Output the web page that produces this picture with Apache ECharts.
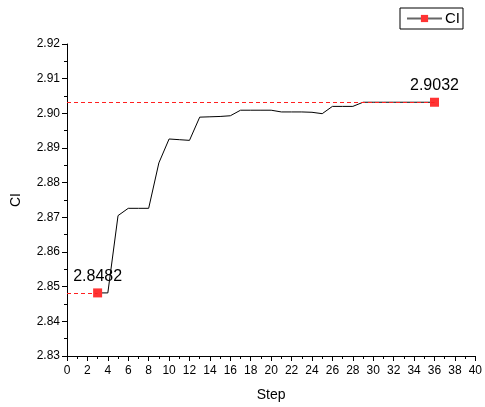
<!DOCTYPE html>
<html>
<head>
<meta charset="utf-8">
<script src="https://cdn.jsdelivr.net/npm/echarts@6/dist/echarts.min.js"></script>
<style>html,body{margin:0;padding:0;background:#fff}#c{width:485px;height:407px}</style>
</head>
<body>
<div id="c"></div>
<script>
var steps = [3,4,5,6,7,8,9,10,11,12,13,14,15,16,17,18,19,20,21,22,23,24,25,26,27,28,29,30,31,32,33,34,35,36];
var ciValues = [2.8482,2.8482,2.8705,2.8726,2.8726,2.8726,2.8857,2.8926,2.8924,2.8922,2.8989,2.8990,2.8991,2.8993,2.9009,2.9009,2.9009,2.9009,2.9004,2.9004,2.9004,2.9003,2.8999,2.9020,2.9020,2.9020,2.9032,2.9032,2.9032,2.9032,2.9032,2.9032,2.9032,2.9032];
var xTicks = [0,2,4,6,8,10,12,14,16,18,20,22,24,26,28,30,32,34,36,38,40];
var yTicks = [2.83,2.84,2.85,2.86,2.87,2.88,2.89,2.90,2.91,2.92];
var markedIdx = [0, steps.length - 1];

var FONT = '"Liberation Sans", Arial, sans-serif';
var valueLabel = { show: true, position: 'top', distance: 4, fontFamily: FONT, fontSize: 16, color: '#000' };
var data = steps.map(function (s, i) {
  var marked = markedIdx.indexOf(i) >= 0;
  return marked ? {
    value: [s, ciValues[i]],
    symbol: 'rect',
    label: Object.assign({ formatter: ciValues[i].toFixed(4) }, valueLabel)
  } : { value: [s, ciValues[i]], symbol: 'none' };
});
var guideLines = markedIdx.map(function (i) {
  return [{ coord: [xTicks[0], ciValues[i]] }, { coord: [steps[i], ciValues[i]] }];
});

var chart = echarts.init(document.getElementById('c'));
chart.setOption({
  animation: false,
  textStyle: { fontFamily: FONT, color: '#000' },
  grid: { left: 67, right: 6, top: 44, bottom: 50 },
  legend: {
    right: 22, top: 8,
    borderColor: '#000', borderWidth: 1, borderRadius: 0,
    padding: [3, 3, 3, 6],
    itemWidth: 35, itemHeight: 9, itemGap: 4,
    lineStyle: { color: '#666' },
    textStyle: { fontFamily: FONT, fontSize: 15, color: '#000', padding: [0, 0, 0, -2] },
    data: ['CI']
  },
  xAxis: {
    type: 'value', min: xTicks[0], max: xTicks[xTicks.length - 1], interval: 2,
    name: 'Step', nameLocation: 'middle', nameGap: 32,
    nameTextStyle: { fontFamily: FONT, fontSize: 14, color: '#000' },
    axisLine: { show: true, lineStyle: { color: '#000', width: 1 } },
    axisTick: { show: true, length: 5, lineStyle: { color: '#000' } },
    minorTick: { show: true, splitNumber: 2, length: 3, lineStyle: { color: '#000' } },
    axisLabel: { fontFamily: FONT, fontSize: 12, color: '#000', margin: 9 },
    splitLine: { show: false }
  },
  yAxis: {
    type: 'value', min: yTicks[0], max: yTicks[yTicks.length - 1], interval: 0.01,
    name: 'CI', nameLocation: 'middle', nameGap: 44, nameRotate: 90,
    nameTextStyle: { fontFamily: FONT, fontSize: 14, color: '#000' },
    axisLine: { show: true, lineStyle: { color: '#000', width: 1 } },
    axisTick: { show: true, length: 5, lineStyle: { color: '#000' } },
    minorTick: { show: true, splitNumber: 2, length: 3, lineStyle: { color: '#000' } },
    axisLabel: { fontFamily: FONT, fontSize: 12, color: '#000', margin: 7,
      formatter: function (v) { return v.toFixed(2); } },
    splitLine: { show: false }
  },
  series: [{
    name: 'CI', type: 'line',
    data: data,
    symbol: 'rect', symbolSize: 9,
    showSymbol: true, showAllSymbol: true,
    itemStyle: { color: '#ff3333' },
    lineStyle: { color: '#000', width: 1 },
    label: valueLabel,
    markLine: {
      silent: true, symbol: 'none', animation: false,
      label: { show: false },
      lineStyle: { color: '#ff2020', type: [4, 3], width: 1 },
      data: guideLines
    },
    z: 3
  }]
});
</script>
</body>
</html>
